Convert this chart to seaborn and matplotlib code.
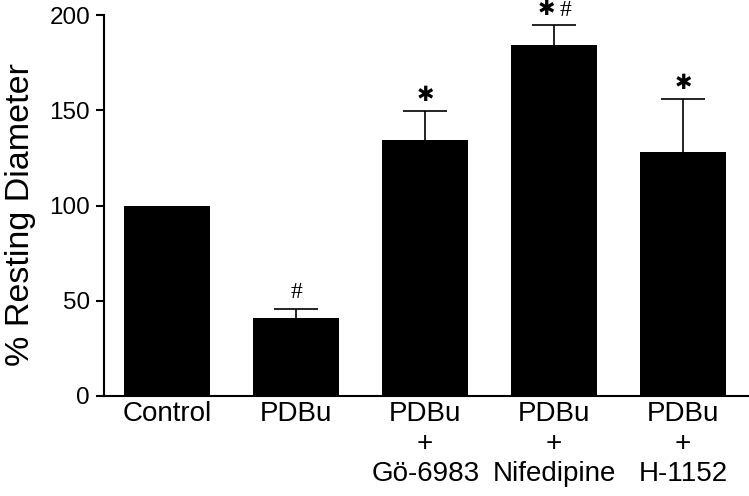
import matplotlib
matplotlib.use("Agg")
import matplotlib.pyplot as plt
import seaborn as sns
import numpy as np

categories = ["Control", "PDBu", "PDBu\n+\nGö-6983", "PDBu\n+\nNifedipine", "PDBu\n+\nH-1152"]
values = [100, 41, 134.5, 184, 128]
errors = [0, 4.8, 15.3, 11, 27.8]
marks = ["", "#", "*", "*#", "*"]
yticks = [0, 50, 100, 150, 200]

sns.set_style("white")
plt.rcParams['font.family'] = ['Liberation Sans', 'DejaVu Sans']
plt.rcParams['text.color'] = 'black'
plt.rcParams['xtick.color'] = 'black'
plt.rcParams['ytick.color'] = 'black'
plt.rcParams['axes.labelcolor'] = 'black'

fig = plt.figure(figsize=(7.49, 4.96), dpi=100)
ax = fig.add_axes([104/749, 1-396/496, 645/749, 381/496])

sns.barplot(x=categories, y=values, color="black", saturation=1, width=0.667,
            linewidth=0, ax=ax)
x = np.arange(len(categories))
vals = np.array(values, dtype=float)
errs = np.array(errors, dtype=float)
m = errs > 0
eb = ax.errorbar(x[m], vals[m], yerr=[np.zeros(m.sum()), errs[m]], fmt="none",
                 ecolor="black", elinewidth=1.2, capsize=16, capthick=1.2, zorder=5)
eb[1][0].set_visible(False)

for xi, v, e, mk in zip(x, values, errors, marks):
    top = v + e
    if mk == "#":
        ax.text(xi, top + 3, "#", ha="center", va="bottom", fontsize=17,
                family=["Liberation Serif"], clip_on=False)
    elif mk == "*":
        ax.text(xi, top + 3, "\u2731", ha="center", va="bottom", fontsize=15,
                family=["DejaVu Sans"], clip_on=False)
    elif mk == "*#":
        ax.text(xi - 0.06, top + 3, "\u2731", ha="center", va="bottom", fontsize=15,
                family=["DejaVu Sans"], clip_on=False)
        ax.text(xi + 0.085, top + 2, "#", ha="center", va="bottom", fontsize=17,
                family=["Liberation Serif"], clip_on=False)

ax.set_xlim(-0.49, 4.51)
ax.set_ylim(0, 200)
ax.set_yticks(yticks)
ax.set_yticklabels([str(t) for t in yticks], fontsize=17.5)
ax.tick_params(axis="y", direction="out", length=6, width=1.5, pad=4, left=True)
ax.tick_params(axis="x", length=0, pad=3.5, labelsize=20)
ax.set_ylabel("% Resting Diameter", fontsize=24.5)
ax.yaxis.set_label_coords(-0.105, 0.475)
for s in ["top", "right"]:
    ax.spines[s].set_visible(False)
for s in ["left", "bottom"]:
    ax.spines[s].set_linewidth(1.5)
    ax.spines[s].set_color("black")

fig.savefig("out.png", dpi=100)
